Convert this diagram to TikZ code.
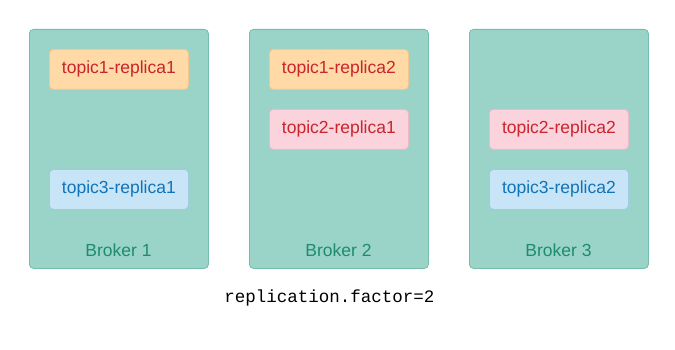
\documentclass[tikz,border=0pt]{standalone}
\usepackage{fontspec}
\setmainfont{Liberation Sans}
\setmonofont{Liberation Mono}
\definecolor{brokerfill}{HTML}{9AD4C8}
\definecolor{brokerline}{HTML}{74BDAE}
\definecolor{brokertext}{HTML}{1E8C6E}
\definecolor{orfill}{HTML}{FFD9A6}
\definecolor{orline}{HTML}{F5C68A}
\definecolor{redtext}{HTML}{C8252C}
\definecolor{pkfill}{HTML}{FBD3DD}
\definecolor{pkline}{HTML}{F0B8C6}
\definecolor{blfill}{HTML}{C7E5F6}
\definecolor{blline}{HTML}{9DCBE6}
\definecolor{bltext}{HTML}{1174B8}
\tikzset{
  broker/.style={draw=brokerline, fill=brokerfill, rounded corners=4pt, line width=0.8pt,
    minimum width=179pt, minimum height=239pt, inner sep=0pt, anchor=north west},
  replica/.style={rounded corners=4pt, line width=0.8pt, minimum width=139pt, minimum height=40pt,
    inner sep=0pt, anchor=north west, font=\fontsize{17.5}{20}\selectfont},
  orrep/.style={replica, draw=orline, fill=orfill, text=redtext},
  pkrep/.style={replica, draw=pkline, fill=pkfill, text=redtext},
  blrep/.style={replica, draw=blline, fill=blfill, text=bltext},
  blabel/.style={text=brokertext, font=\fontsize{17.5}{20}\selectfont},
}
\begin{document}
\begin{tikzpicture}[x=1pt,y=-1pt]
\useasboundingbox (0,0) rectangle (675,350);
\node[broker] (b1) at (29,29) {};
\node[broker] (b2) at (249,29) {};
\node[broker] (b3) at (469,29) {};
\node[orrep] (t1r1) at (49,49) {topic1-replica1};
\node[blrep] (t3r1) at (49,169) {topic3-replica1};
\node[orrep] (t1r2) at (269,49) {topic1-replica2};
\node[pkrep] (t2r1) at (269,109) {topic2-replica1};
\node[pkrep] (t2r2) at (489,109) {topic2-replica2};
\node[blrep] (t3r2) at (489,169) {topic3-replica2};
\node[blabel] (l1) at (118.5,250) {Broker 1};
\node[blabel] (l2) at (338.5,250) {Broker 2};
\node[blabel] (l3) at (558.5,250) {Broker 3};
\node[font=\ttfamily\fontsize{17.5}{20}\selectfont] (rf) at (329.5,298) {replication.factor=2};
\end{tikzpicture}
\end{document}
